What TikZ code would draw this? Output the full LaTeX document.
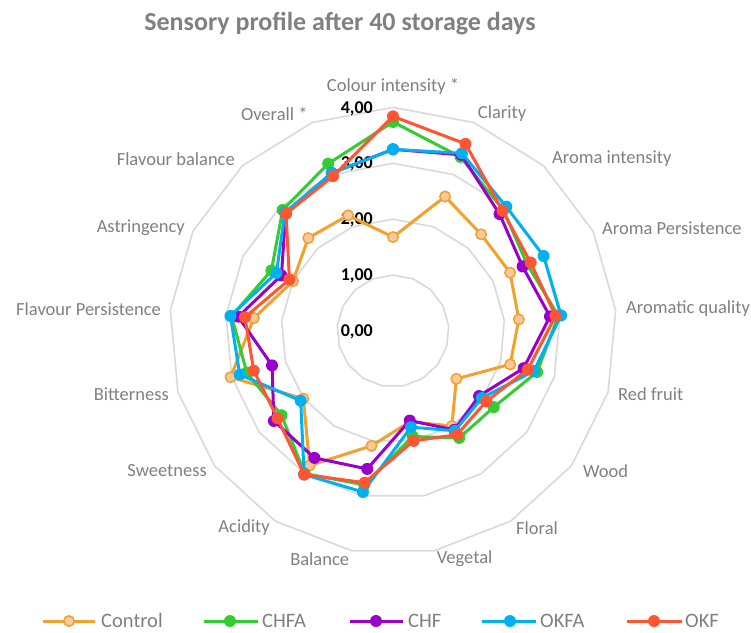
\documentclass[tikz,border=0pt]{standalone}
\usepackage{fontspec}
\setmainfont{Carlito}
\definecolor{ctrl}{HTML}{F2A02E}
\definecolor{ctrlfill}{HTML}{F8C99B}
\definecolor{chfa}{HTML}{33CC33}
\definecolor{chf}{HTML}{9900CC}
\definecolor{okfa}{HTML}{00B0F0}
\definecolor{okf}{HTML}{FF5533}
\definecolor{ringc}{HTML}{D9D9D9}
\definecolor{txt}{HTML}{808080}
\tikzset{
  ring/.style={draw=ringc, line width=1.6pt, line join=round},
  serie/.style={line width=3pt, line join=round, line cap=round},
  dot/.style={circle, inner sep=0pt, minimum size=12pt, fill=#1},
  cdot/.style={circle, inner sep=0pt, minimum size=10.5pt, fill=ctrlfill, draw=ctrl, line width=1.5pt},
  mchfa/.style={dot=chfa}, mchf/.style={dot=chf}, mokfa/.style={dot=okfa}, mokf/.style={dot=okf},
  axlab/.style={text=txt, font=\fontsize{18.5}{20}\selectfont, inner sep=0pt},
  vallab/.style={font=\fontsize{18}{19}\bfseries\selectfont, inner sep=0pt, anchor=east},
  leglab/.style={text=txt, font=\fontsize{20.5}{22}\selectfont, inner sep=0pt, anchor=base west},
}
\newcommand\myseries[4]{%
  \foreach \v [count=\i from 0] in {#4} {\coordinate (#1-\i) at ({90-\i*360/17}:{\v*55.9pt});}
  \draw[serie, #2] (#1-0) \foreach \i in {1,...,16} { -- (#1-\i) } -- cycle;
  \foreach \i in {0,...,16} {\node[#3] (#1m-\i) at (#1-\i) {};}
}
\begin{document}
\begin{tikzpicture}[x=1pt,y=1pt]
\useasboundingbox (-393,-301) rectangle (358,331);
\fill[white] (-393,-301) rectangle (358,331);
% title
\node[anchor=base, text=txt, font=\fontsize{26}{28}\bfseries\selectfont, inner sep=0pt] (title) at (-53,300) {Sensory profile after 40 storage days};
% rings
\foreach \k in {1,...,4} {
  \draw[ring] (90:{\k*55.9pt}) \foreach \j in {1,...,16} { -- ({90-\j*360/17}:{\k*55.9pt}) } -- cycle;
}
% value labels
\foreach \k/\t in {0/{0,00},1/{1,00},2/{2,00},3/{3,00},4/{4,00}} {
  \node[vallab] (val\k) at (-20,{55.9*\k-1}) {\t};
}
% axis labels
\node[axlab] (l0) at (0,245) {Colour intensity *};
\node[axlab, anchor=west] (l1) at (84.7,217) {Clarity};
\node[axlab, anchor=west] (l2) at (159,172) {Aroma intensity};
\node[axlab, anchor=west] (l3) at (209,103) {Aroma Persistence};
\node[axlab, anchor=west] (l4) at (233,22) {Aromatic quality};
\node[axlab, anchor=west] (l5) at (225,-63) {Red fruit};
\node[axlab, anchor=west] (l6) at (190,-140) {Wood};
\node[axlab, anchor=west] (l7) at (123,-197) {Floral};
\node[axlab, anchor=west] (l8) at (43.7,-228) {Vegetal};
\node[axlab, anchor=east] (l9) at (-43.7,-228) {Balance};
\node[axlab, anchor=east] (l10) at (-123,-197) {Acidity};
\node[axlab, anchor=east] (l11) at (-186,-140) {Sweetness};
\node[axlab, anchor=east] (l12) at (-224,-63) {Bitterness};
\node[axlab, anchor=east] (l13) at (-232,22) {Flavour Persistence};
\node[axlab, anchor=east] (l14) at (-208,103) {Astringency};
\node[axlab, anchor=east] (l15) at (-158,172) {Flavour balance};
\node[axlab, anchor=east] (l16) at (-85.3,217) {Overall *};
% series
\myseries{ctl}{draw=ctrl}{cdot}{1.68,2.58,2.34,2.34,2.26,2.18,1.42,2.00,1.65,2.09,2.83,2.01,3.02,2.50,2.00,2.25,2.22}
\myseries{chfa}{draw=chfa}{mchfa}{3.74,3.34,2.93,2.68,2.97,2.68,2.26,2.25,1.92,2.80,3.00,2.50,2.72,2.90,2.43,2.93,3.21}
\myseries{chf}{draw=chf}{mchf}{3.25,3.38,2.83,2.59,2.82,2.43,1.93,2.08,1.63,2.51,2.67,2.67,2.25,2.78,2.23,2.85,3.03}
\myseries{okfa}{draw=okfa}{mokfa}{3.25,3.41,3.01,3.01,3.02,2.62,1.99,2.10,1.75,2.93,3.02,2.07,2.85,2.92,2.33,2.87,3.03}
\myseries{okf}{draw=okf}{mokf}{3.84,3.59,2.91,2.75,2.92,2.51,2.09,2.18,2.00,2.76,3.02,2.59,2.59,2.66,2.07,2.84,2.97}
% legend
\foreach \n/\c/\xa/\xm/\xb/\xt/\lab/\mk in {
  lc/ctrl/-350/-324/-298/-292/Control/cdot,
  lg/chfa/-189/-163/-135/-131/CHFA/mchfa,
  lp/chf/-43/-17/10/15/CHF/mchf,
  lb/okfa/89/117/143/147/OKFA/mokfa,
  lr/okf/234/261/289/292/OKF/mokf} {
  \coordinate (\n-a) at (\xa,-290);
  \coordinate (\n-b) at (\xb,-290);
  \draw[serie, draw=\c, line cap=butt] (\n-a) -- (\n-b);
  \node[\mk] (\n-m) at (\xm,-290) {};
  \node[leglab] (\n-t) at (\xt,-296.5) {\lab};
}
\end{tikzpicture}
\end{document}
